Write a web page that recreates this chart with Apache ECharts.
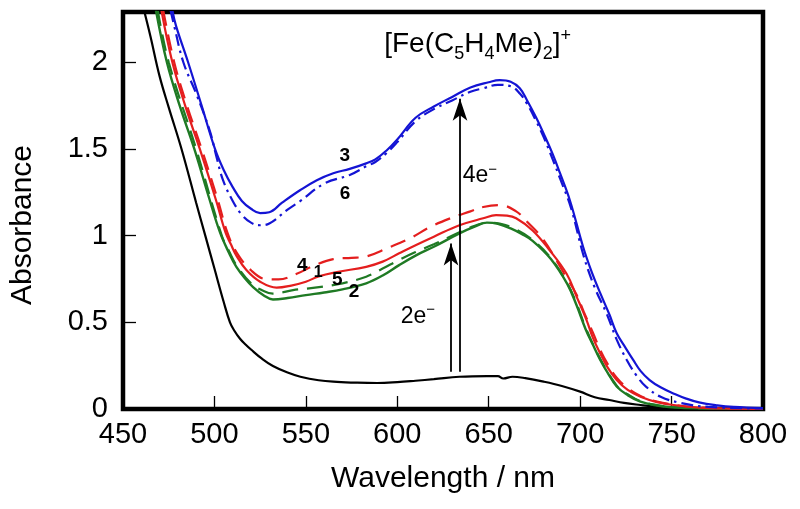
<!DOCTYPE html>
<html>
<head>
<meta charset="utf-8">
<script src="https://cdn.jsdelivr.net/npm/echarts@6/dist/echarts.min.js"></script>
<style>
html,body{margin:0;padding:0;background:#fff;}
#chart{width:800px;height:509px;}
</style>
</head>
<body>
<div id="chart"></div>
<script>
// ---- data (wavelength nm, absorbance) ----
const xTicks = [450, 500, 550, 600, 650, 700, 750, 800];
const yTicks = [0, 0.5, 1, 1.5, 2];

const curveNeutral = [[461.5,2.30],[465,2.15],[470,1.92],[475,1.74],[482,1.50],[490,1.19],[495,1.00],[500,0.81],[505,0.62],[508.5,0.50],[511,0.45],[514,0.405],[517,0.372],[520,0.343],[526,0.29],[532,0.248],[540,0.21],[547,0.186],[557,0.166],[567,0.157],[578,0.152],[589,0.150],[600,0.155],[610,0.163],[620,0.172],[634,0.186],[649,0.19],[655,0.19],[658,0.176],[663,0.186],[670,0.178],[680,0.158],[690,0.133],[700,0.10],[708,0.068],[716,0.052],[724,0.035],[733,0.023],[742,0.013],[751,0.007],[765,0.003],[780,0.001],[800,0]];

const curve1 = [[471,2.30],[477,2.0],[484,1.75],[492,1.5],[501,1.2],[506,1.02],[509,0.95],[512,0.885],[517.6,0.80],[525,0.734],[534,0.70],[542,0.712],[550,0.734],[557,0.765],[567,0.79],[583,0.82],[592,0.85],[601,0.898],[610,0.945],[620,0.994],[634,1.06],[647,1.10],[654,1.118],[660,1.115],[665,1.10],[674,1.03],[683,0.92],[692.6,0.78],[698,0.65],[703.5,0.513],[707,0.41],[711,0.32],[715,0.24],[720,0.167],[726,0.11],[733,0.071],[742,0.04],[751,0.023],[765,0.008],[780,0.003],[800,0]];

const curve2 = [[468,2.30],[474,2.0],[481,1.75],[489,1.5],[497,1.22],[503,1.02],[508,0.90],[512,0.82],[517,0.75],[521,0.705],[527,0.655],[532,0.632],[540,0.64],[550,0.657],[560,0.672],[570,0.69],[583,0.725],[592,0.77],[601,0.83],[610,0.885],[620,0.936],[634,1.013],[642,1.05],[649,1.075],[655,1.068],[662,1.042],[668,1.01],[674,0.97],[684,0.865],[693,0.72],[698,0.60],[703,0.46],[707,0.37],[711,0.283],[715,0.21],[720,0.13],[726,0.08],[733,0.042],[742,0.02],[750,0.01],[765,0.004],[800,0]];

const curve3 = [[477,2.30],[479,2.21],[485.6,2.0],[493,1.75],[500.3,1.5],[505,1.38],[510,1.28],[515,1.2],[520,1.155],[525,1.13],[530,1.135],[537,1.19],[547,1.263],[556,1.32],[565,1.36],[574,1.385],[583,1.417],[588,1.44],[594,1.49],[600,1.555],[610,1.68],[620,1.745],[630,1.80],[640,1.855],[650,1.885],[656,1.897],[662,1.888],[667,1.85],[671,1.78],[676,1.68],[680,1.59],[685,1.47],[689,1.36],[694.5,1.2],[701.6,0.936],[706,0.80],[711,0.668],[716,0.545],[720,0.437],[725,0.35],[729,0.283],[733,0.22],[738,0.167],[744,0.125],[751,0.09],[758,0.06],[765,0.038],[775,0.021],[784,0.012],[800,0.005]];

const curve4 = [[472,2.30],[478,2.0],[485,1.75],[493,1.5],[502,1.2],[507,1.02],[512,0.905],[520,0.80],[528,0.75],[535,0.748],[545,0.78],[555,0.83],[565,0.865],[575,0.872],[583,0.88],[595,0.93],[607,0.985],[618,1.05],[629,1.10],[640,1.14],[647,1.165],[656,1.176],[665,1.14],[671,1.08],[680,0.975],[693,0.75],[698,0.66],[702,0.56],[707,0.44],[711,0.34],[715,0.26],[720,0.18],[726,0.12],[733,0.075],[742,0.043],[751,0.025],[765,0.009],[800,0]];

const curve5 = [[469,2.30],[475,2.0],[490,1.5],[504,1.0],[508,0.91],[512,0.83],[520,0.725],[526,0.685],[532,0.665],[543,0.686],[555,0.70],[570,0.725],[583,0.763],[592,0.81],[601,0.86],[610,0.905],[620,0.95],[634,1.02],[642,1.055],[649,1.075],[656,1.07],[665,1.035],[674,0.975],[684,0.87],[693,0.725],[698,0.61],[703,0.47],[711,0.29],[720,0.135],[726,0.085],[733,0.045],[742,0.022],[750,0.012],[765,0.004],[800,0]];

const curve6 = [[476,2.30],[478,2.21],[483,2.0],[490,1.82],[497.6,1.6],[501,1.46],[504.7,1.32],[510,1.2],[515,1.12],[520,1.075],[525,1.06],[530,1.07],[540,1.15],[547,1.2],[560,1.3],[574,1.35],[583,1.40],[588,1.425],[594,1.475],[600,1.54],[610,1.66],[620,1.73],[630,1.78],[640,1.83],[647,1.85],[655,1.87],[662,1.862],[667,1.82],[671,1.76],[676,1.66],[680,1.57],[685,1.44],[689,1.33],[695,1.16],[702,0.88],[708,0.70],[714.5,0.55],[720,0.40],[725.5,0.283],[731,0.19],[736,0.129],[744,0.071],[755,0.035],[770,0.012],[800,0.003]];

// arrows: [wavelength, from absorbance, to absorbance]
const arrow2e = [629.4, 0.215, 0.955];
const arrow4e = [634.3, 0.215, 1.79];

// ---- chart ----
const FONT = "'Liberation Sans', Arial, Helvetica, sans-serif";
const BLUE = '#1414d4', RED = '#e41e1e', GREEN = '#1f7a24';

function lineSeries(name, data, color, type, width) {
  return {
    name, type: 'line', data, showSymbol: false, symbol: 'none',
    smooth: 0.4, clip: true,
    lineStyle: { color, width: width || 2.2, type: type || 'solid' },
    z: 3
  };
}

const annotations = [
  { text: '3', coord: [571.3, 1.461], size: 19 },
  { text: '6', coord: [571.4, 1.24], size: 19 },
  { text: '4', coord: [548.0, 0.829], size: 19 },
  { text: '1', coord: [556.8, 0.786], size: 16 },
  { text: '5', coord: [567.2, 0.744], size: 19 },
  { text: '2', coord: [576.4, 0.677], size: 19 }
];

const chart = echarts.init(document.getElementById('chart'), null, { renderer: 'canvas' });

const labelItemStyle = { color: 'rgba(0,0,0,0)', opacity: 1 };

const option = {
  backgroundColor: '#fff',
  animation: false,
  grid: {
    left: 123, right: 37, top: 12, bottom: 100,
    show: true, borderColor: '#000', borderWidth: 4.5, backgroundColor: 'transparent'
  },
  xAxis: {
    type: 'value', min: xTicks[0], max: xTicks[xTicks.length - 1], interval: 50,
    name: 'Wavelength / nm', nameLocation: 'middle', nameGap: 55,
    nameTextStyle: { fontFamily: FONT, fontSize: 30, color: '#000' },
    axisLine: { show: false },
    axisTick: { show: true, inside: true, length: 13, lineStyle: { color: '#000', width: 1.3 } },
    axisLabel: { fontFamily: FONT, fontSize: 29, color: '#000', margin: 11 },
    splitLine: { show: false }
  },
  yAxis: {
    type: 'value', min: yTicks[0], max: 2.29, interval: 0.5,
    axisLine: { show: false },
    axisTick: { show: true, inside: true, length: 13, lineStyle: { color: '#000', width: 1.3 } },
    axisLabel: {
      fontFamily: FONT, fontSize: 29, color: '#000', margin: 15, showMaxLabel: false,
      formatter: v => (yTicks.indexOf(+v.toFixed(2)) >= 0 ? String(+v.toFixed(2)) : '')
    },
    splitLine: { show: false }
  },
  graphic: [{
    type: 'text', x: 23, y: 225, rotation: Math.PI / 2,
    style: { text: 'Absorbance', font: '30px ' + FONT, fill: '#000', align: 'center', verticalAlign: 'middle' }
  }],
  series: [
    lineSeries('neutral', curveNeutral, '#000', 'solid', 2.2),
    lineSeries('5', curve5, GREEN, [16, 9], 2.2),
    lineSeries('2', curve2, GREEN, 'solid', 2.4),
    lineSeries('4', curve4, RED, [16, 9], 2.2),
    lineSeries('1', curve1, RED, 'solid', 2.2),
    lineSeries('6', curve6, BLUE, [12, 5, 2.5, 5], 2.2),
    lineSeries('3', curve3, BLUE, 'solid', 2.2),
    {
      name: 'arrows', type: 'line', data: [], silent: true,
      markLine: {
        silent: true, animation: false,
        symbol: ['none', 'arrow'],
        label: { show: false },
        lineStyle: { color: '#000', width: 1.8, type: 'solid' },
        emphasis: { disabled: true },
        data: [
          [{ coord: [arrow2e[0], arrow2e[1]], symbol: 'none' },
           { coord: [arrow2e[0], arrow2e[2]], symbol: 'arrow', symbolSize: [11, 22] }],
          [{ coord: [arrow4e[0], arrow4e[1]], symbol: 'none' },
           { coord: [arrow4e[0], arrow4e[2]], symbol: 'arrow', symbolSize: [11, 22] }]
        ]
      },
      z: 5
    },
    {
      name: 'labels', type: 'scatter', symbolSize: 1, silent: true,
      itemStyle: labelItemStyle,
      data: annotations.map(a => ({
        value: a.coord, name: a.text,
        label: {
          show: true, position: 'inside', formatter: a.text,
          fontFamily: FONT, fontWeight: 'bold', fontSize: a.size, color: '#000'
        }
      })),
      z: 6
    },
    {
      name: 'texts', type: 'scatter', symbolSize: 1, silent: true,
      itemStyle: labelItemStyle,
      data: [
        { value: [611.3, 0.532], label: { show: true, position: 'inside',
          formatter: '{m|2e}{s|\u2212}', rich: {
            m: { fontFamily: FONT, fontSize: 23, color: '#000', lineHeight: 28 },
            s: { fontFamily: FONT, fontSize: 15, color: '#000', lineHeight: 15, verticalAlign: 'top' } } } },
        { value: [645.2, 1.344], label: { show: true, position: 'inside',
          formatter: '{m|4e}{s|\u2212}', rich: {
            m: { fontFamily: FONT, fontSize: 23, color: '#000', lineHeight: 28 },
            s: { fontFamily: FONT, fontSize: 15, color: '#000', lineHeight: 15, verticalAlign: 'top' } } } },
        { value: [643.9, 2.102], label: { show: true, position: 'inside',
          formatter: '{m|[Fe(C}{b|5}{m|H}{b|4}{m|Me)}{b|2}{m|]}{p|+}', rich: {
            m: { fontFamily: FONT, fontSize: 28, color: '#000', lineHeight: 36 },
            b: { fontFamily: FONT, fontSize: 18, color: '#000', lineHeight: 18, verticalAlign: 'bottom' },
            p: { fontFamily: FONT, fontSize: 18, color: '#000', lineHeight: 18, verticalAlign: 'top' } } } }
      ],
      z: 6
    }
  ]
};

chart.setOption(option);
</script>
</body>
</html>
